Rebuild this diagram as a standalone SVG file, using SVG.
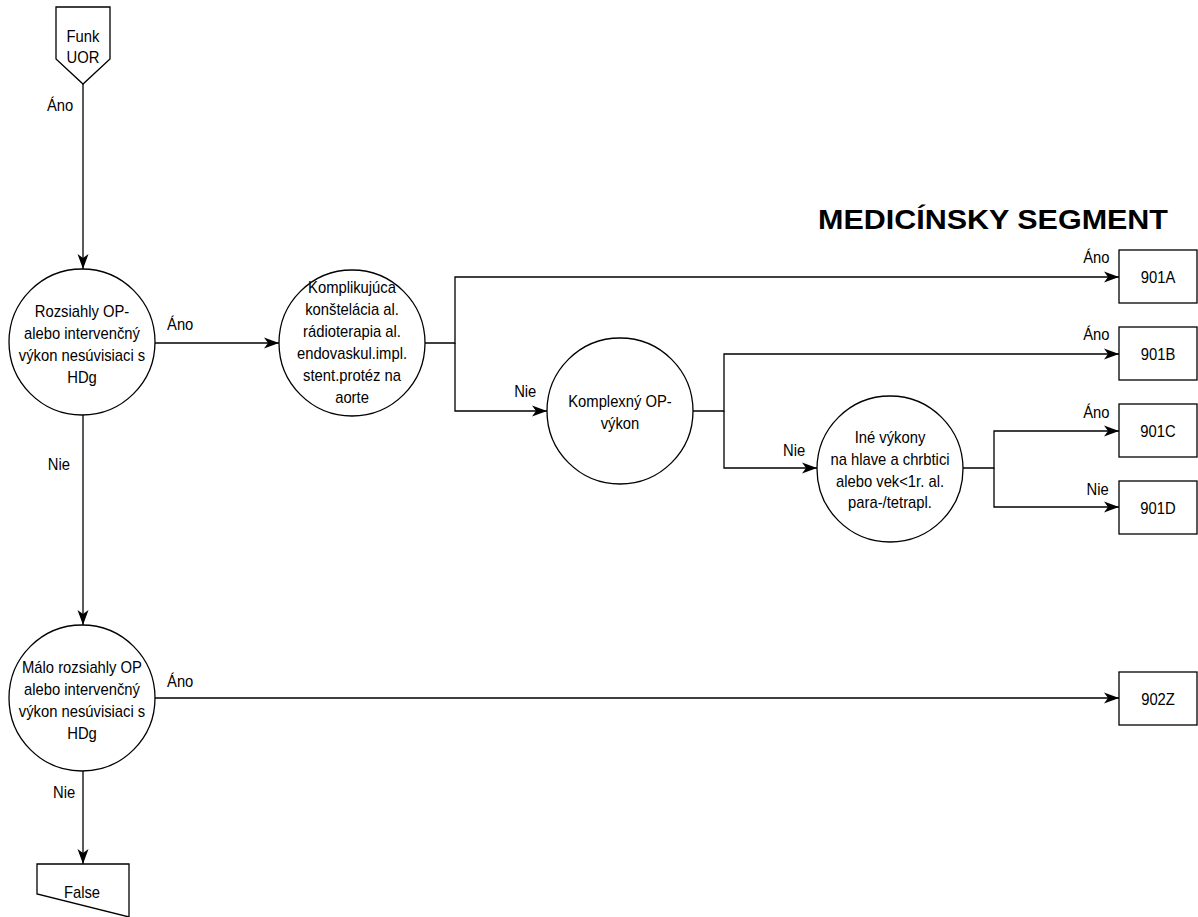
<svg xmlns="http://www.w3.org/2000/svg" width="1198" height="917" viewBox="0 0 1198 917">
<style>
.s{fill:#fff;stroke:#000;stroke-width:1.3}
.c{fill:none;stroke:#000;stroke-width:1.3}
text{font-family:"Liberation Sans",Arial,sans-serif;font-size:17px;fill:#000}
.m{text-anchor:middle}
.t{font-weight:bold;font-size:27px}
</style>
<defs>
<marker id="ar" markerUnits="userSpaceOnUse" markerWidth="16" markerHeight="12" refX="15" refY="6" orient="auto">
<path d="M0,0.5 L15,6 L0,11.5 L4,6 Z" fill="#000"/>
</marker>
</defs>
<rect width="1198" height="917" fill="#fff"/>
<text class="t" x="818" y="229" textLength="350" lengthAdjust="spacingAndGlyphs">MEDICÍNSKY SEGMENT</text>
<g id="connectors">
<path class="c" d="M83,84 V269" marker-end="url(#ar)"/>
<path class="c" d="M155,343 H279" marker-end="url(#ar)"/>
<path class="c" d="M425,343 H455 V277 H1119" marker-end="url(#ar)"/>
<path class="c" d="M455,343 V411 H547" marker-end="url(#ar)"/>
<path class="c" d="M693,411 H724 V354 H1119" marker-end="url(#ar)"/>
<path class="c" d="M724,411 V468 H817" marker-end="url(#ar)"/>
<path class="c" d="M963,468 H994 V431 H1119" marker-end="url(#ar)"/>
<path class="c" d="M994,468 V507 H1119" marker-end="url(#ar)"/>
<path class="c" d="M83,415 V625" marker-end="url(#ar)"/>
<path class="c" d="M155,698 H1119" marker-end="url(#ar)"/>
<path class="c" d="M83,771 V864" marker-end="url(#ar)"/>
<g transform="scale(0.87,1)">
<text x="54" y="111">Áno</text>
<text x="55" y="470">Nie</text>
<text x="192" y="330">Áno</text>
<text x="591" y="397">Nie</text>
<text x="900" y="456">Nie</text>
<text x="1245" y="263">Áno</text>
<text x="1245" y="340">Áno</text>
<text x="1245" y="418">Áno</text>
<text x="1249" y="495">Nie</text>
<text x="192" y="687">Áno</text>
<text x="61" y="798">Nie</text>
</g>
</g>
<g id="funk">
<polygon class="s" points="56,7 110,7 110,59 83,84 56,59"/>
<g transform="translate(83,0) scale(0.87,1)"><text class="m" x="0" y="42">Funk</text><text class="m" x="0" y="63">UOR</text></g>
</g>
<g id="n1">
<circle class="s" cx="82" cy="342" r="73"/>
<g transform="translate(82,0) scale(0.87,1)">
<text class="m" x="0" y="317">Rozsiahly OP-</text>
<text class="m" x="0" y="339">alebo intervenčný</text>
<text class="m" x="0" y="361">výkon nesúvisiaci s</text>
<text class="m" x="0" y="383">HDg</text>
</g>
</g>
<g id="n2">
<circle class="s" cx="352" cy="343" r="73"/>
<g transform="translate(352,0) scale(0.87,1)">
<text class="m" x="0" y="293">Komplikujúca</text>
<text class="m" x="0" y="315">konštelácia al.</text>
<text class="m" x="0" y="337">rádioterapia al.</text>
<text class="m" x="0" y="359">endovaskul.impl.</text>
<text class="m" x="0" y="381">stent.protéz na</text>
<text class="m" x="0" y="403">aorte</text>
</g>
</g>
<g id="n3">
<circle class="s" cx="620" cy="411" r="73"/>
<g transform="translate(620,0) scale(0.87,1)">
<text class="m" x="0" y="407">Komplexný OP-</text>
<text class="m" x="0" y="429">výkon</text>
</g>
</g>
<g id="n4">
<circle class="s" cx="890" cy="469" r="73"/>
<g transform="translate(890,0) scale(0.87,1)">
<text class="m" x="0" y="443">Iné výkony</text>
<text class="m" x="0" y="465">na hlave a chrbtici</text>
<text class="m" x="0" y="487">alebo vek&lt;1r. al.</text>
<text class="m" x="0" y="508">para-/tetrapl.</text>
</g>
</g>
<g id="n5">
<circle class="s" cx="82" cy="698" r="73"/>
<g transform="translate(82,0) scale(0.87,1)">
<text class="m" x="0" y="673">Málo rozsiahly OP</text>
<text class="m" x="0" y="695">alebo intervenčný</text>
<text class="m" x="0" y="717">výkon nesúvisiaci s</text>
<text class="m" x="0" y="739">HDg</text>
</g>
</g>
<g id="b901A"><rect class="s" x="1119" y="250" width="78" height="53"/><g transform="translate(1158,0) scale(0.87,1)"><text class="m" x="0" y="283">901A</text></g></g>
<g id="b901B"><rect class="s" x="1119" y="327" width="78" height="53"/><g transform="translate(1158,0) scale(0.87,1)"><text class="m" x="0" y="360">901B</text></g></g>
<g id="b901C"><rect class="s" x="1119" y="404" width="78" height="53"/><g transform="translate(1158,0) scale(0.87,1)"><text class="m" x="0" y="437">901C</text></g></g>
<g id="b901D"><rect class="s" x="1119" y="481" width="78" height="53"/><g transform="translate(1158,0) scale(0.87,1)"><text class="m" x="0" y="514">901D</text></g></g>
<g id="b902Z"><rect class="s" x="1119" y="672" width="78" height="53"/><g transform="translate(1158,0) scale(0.87,1)"><text class="m" x="0" y="705">902Z</text></g></g>
<g id="false">
<polygon class="s" points="37,864 129,864 129,917 37,894"/>
<g transform="translate(82,0) scale(0.87,1)"><text class="m" x="0" y="898">False</text></g>
</g>
</svg>
